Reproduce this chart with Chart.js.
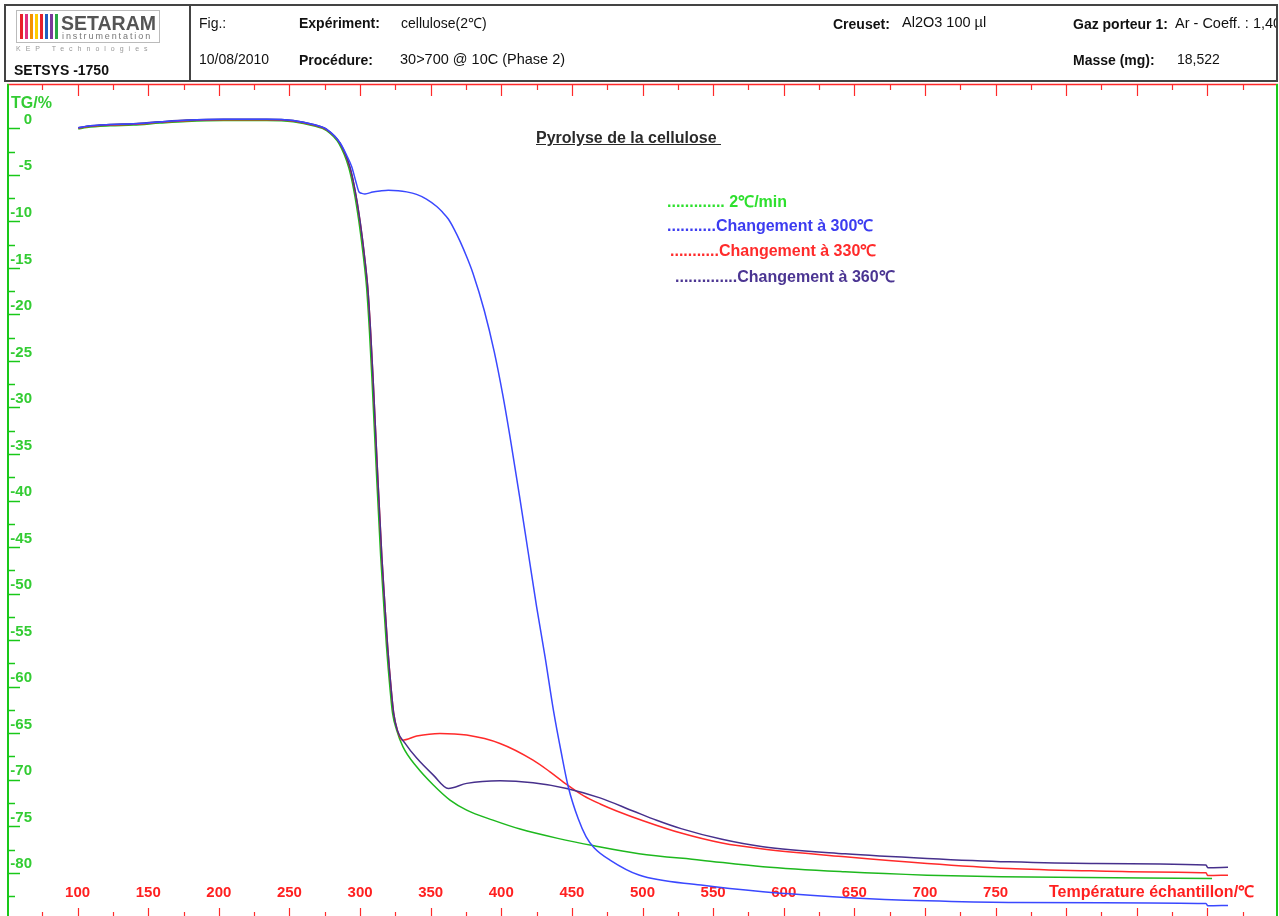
<!DOCTYPE html>
<html>
<head>
<meta charset="utf-8">
<script src="https://cdn.jsdelivr.net/npm/chart.js@4.4.1/dist/chart.umd.min.js"></script>
<style>
html, body { margin: 0; padding: 0; background: #fff; overflow: hidden; }
body { width: 1279px; height: 916px; position: relative; font-family: "Liberation Sans", Arial, sans-serif; }
#chart { position: absolute; left: 0; top: 0; }
.t { position: absolute; white-space: nowrap; line-height: 1; font-size: 14px; color: #111; }
.b { font-weight: bold; }
.box { position: absolute; left: 4px; top: 4px; width: 1274px; height: 78px; border: 2px solid #444; box-sizing: border-box; }
.sep { position: absolute; left: 189px; top: 4px; width: 2px; height: 78px; background: #444; }
.logo { position: absolute; left: 16px; top: 10px; width: 144px; height: 33px; border: 1px solid #bbb; box-sizing: border-box; }
.bar { position: absolute; top: 3px; width: 3px; height: 25px; }
.leg { position: absolute; white-space: nowrap; line-height: 1; font-size: 16px; font-weight: bold; }
</style>
</head>
<body>
<canvas id="chart" width="1279" height="916"></canvas>

<!-- header -->
<div class="box"></div>
<div class="sep"></div>
<div class="logo">
  <span class="bar" style="left:3px;background:#e8202a"></span>
  <span class="bar" style="left:8px;background:#e0307f"></span>
  <span class="bar" style="left:13px;background:#f39200"></span>
  <span class="bar" style="left:18px;background:#ffcc00"></span>
  <span class="bar" style="left:23px;background:#e8202a"></span>
  <span class="bar" style="left:28px;background:#2060c0"></span>
  <span class="bar" style="left:33px;background:#7a3a9a"></span>
  <span class="bar" style="left:38px;background:#2aa845"></span>
  <span class="t b" style="left:44px;top:3px;font-size:19.5px;color:#555">SETARAM</span>
  <span class="t" style="left:45px;top:21px;font-size:9px;letter-spacing:1.9px;color:#777">instrumentation</span>
</div>
<span class="t" style="left:16px;top:45px;font-size:7px;letter-spacing:5px;color:#999">KEP Technologies</span>
<span class="t b" style="left:14px;top:63px;font-size:14px">SETSYS -1750</span>

<span class="t" style="left:199px;top:16px">Fig.:</span>
<span class="t b" style="left:299px;top:16px">Expériment:</span>
<span class="t" style="left:401px;top:16px">cellulose(2℃)</span>
<span class="t b" style="left:833px;top:17px">Creuset:</span>
<span class="t" style="left:902px;top:15px;font-size:14.5px">Al2O3 100 µl</span>
<span class="t b" style="left:1073px;top:17px">Gaz porteur 1:</span>
<span class="t" style="left:1175px;top:16px;width:101px;overflow:hidden;font-size:14.5px">Ar - Coeff. : 1,40</span>
<span class="t" style="left:199px;top:52px">10/08/2010</span>
<span class="t b" style="left:299px;top:53px">Procédure:</span>
<span class="t" style="left:400px;top:52px;font-size:14.5px">30&gt;700 @ 10C (Phase 2)</span>
<span class="t b" style="left:1073px;top:53px">Masse (mg):</span>
<span class="t" style="left:1177px;top:52px">18,522</span>

<!-- title and legend -->
<span class="leg" style="left:536px;top:130px;color:#2a2a2a;text-decoration:underline">Pyrolyse de la cellulose&nbsp;</span>
<span class="leg" style="left:667px;top:194px;color:#2ee02e">.............&nbsp;2℃/min</span>
<span class="leg" style="left:667px;top:218px;color:#3c3cf0">...........Changement à 300℃</span>
<span class="leg" style="left:670px;top:243px;color:#ff2b2b">...........Changement à 330℃</span>
<span class="leg" style="left:675px;top:269px;color:#4b3592">..............Changement à 360℃</span>

<script>
// TG curves, temperature (°C) and mass change (%)
const greenT = [100.5, 106.4, 122.9, 139.4, 158.3, 177.2, 203.2, 233.9, 252.7, 266.9, 276.4, 285.0,
  292.1, 295.6, 299.2, 302.4, 304.7, 306.6, 308.4, 311.4, 314.6, 316.6, 318.7, 321.3, 323.0,
  325.9, 330.4, 340.1, 351.9, 363.7, 375.5, 394.1, 413.3, 440.0, 465.7, 497.5, 541.4, 585.3, 643.4,
  701.5, 753.9, 903.3];
const greenTG = [-0.08, 0.09, 0.27, 0.35, 0.56, 0.74, 0.84, 0.84, 0.7, 0.27, -0.26, -1.63,
  -4.27, -6.67, -10.03, -13.83, -17.23, -21.68, -26.84, -36.4, -45.97, -50.8, -55.64, -60.37, -62.84,
  -64.66, -66.46, -68.61, -70.57, -72.19, -73.26, -74.34, -75.3, -76.3, -77.1, -77.95, -78.64, -79.35, -79.89,
  -80.25, -80.43, -80.6];

const blueT = [100.5, 106.4, 122.9, 139.4, 158.3, 177.2, 203.2, 233.9, 252.7, 266.9, 276.4, 285.8,
  290.5, 294.1, 297.1, 299.3, 301.2, 303.5, 309.0, 314.1, 320.0, 327.0, 333.0, 340.0, 347.0, 354.3, 358.0,
  362.5, 366.5, 371.0, 375.5, 380.0, 388.0, 395.0, 401.0, 407.0, 413.0, 419.0, 425.0, 431.0,
  437.0, 442.5, 447.5, 454.5, 460.0, 465.7, 477.0, 497.5, 541.4, 585.3, 643.4, 701.5, 759.5,
  899.0, 900.3, 914.6];
const blueTG = [0.05, 0.22, 0.4, 0.48, 0.69, 0.87, 0.97, 0.97, 0.83, 0.4, -0.12, -1.55,
  -2.9, -4.13, -5.77, -6.85, -6.99, -7.05, -6.85, -6.74, -6.66, -6.7, -6.83, -7.1, -7.6, -8.4, -8.95,
  -9.75, -10.8, -12.2, -13.8, -15.6, -19.6, -24.0, -28.6, -33.9, -39.6, -45.5, -51.4, -56.8,
  -62.6, -67.1, -70.8, -74.2, -76.1, -77.3, -78.63, -80.24, -81.32, -82.04, -82.64, -83.01, -83.18,
  -83.29, -83.55, -83.5];

const redT = [100.5, 106.4, 122.9, 139.4, 158.3, 177.2, 203.2, 233.9, 252.7, 266.9, 276.4, 285.8,
  292.9, 296.4, 300.0, 303.2, 305.5, 307.4, 309.2, 312.2, 315.4, 317.4, 319.5, 322.1, 323.8, 326.5,
  330.0, 340.1, 356.6, 375.5, 399.1, 422.5, 434.5, 446.3, 458.1, 470.0, 481.7, 500.4, 527.3, 556.3,
  585.3, 643.4, 701.5, 759.5, 817.6, 860.8, 899.0, 900.3, 914.6];
const redTG = [0.0, 0.17, 0.35, 0.43, 0.64, 0.82, 0.92, 0.92, 0.78, 0.35, -0.18, -1.63,
  -4.27, -6.67, -10.03, -13.83, -17.23, -21.68, -26.84, -36.4, -45.97, -50.8, -55.64, -60.37, -62.84, -64.72,
  -65.75, -65.31, -65.02, -65.2, -66.1, -67.89, -69.15, -70.5, -71.7, -72.6, -73.35, -74.4, -75.73, -76.8,
  -77.44, -78.28, -78.99, -79.53, -79.79, -79.9, -80.0, -80.3, -80.25];

const purpleT = [100.5, 106.4, 122.9, 139.4, 158.3, 177.2, 203.2, 233.9, 252.7, 266.9, 276.4, 285.8,
  292.9, 296.4, 300.0, 303.2, 305.5, 307.4, 309.2, 312.2, 315.4, 317.4, 319.5, 322.1, 323.8, 326.5,
  331.8, 340.1, 351.9, 362.5, 375.5, 399.1, 422.5, 446.3, 469.9, 493.3, 510.0, 527.3, 556.3,
  585.3, 643.4, 701.5, 759.5, 817.6, 899.0, 900.3, 914.6];
const purpleTG = [0.06, 0.23, 0.41, 0.49, 0.7, 0.88, 0.98, 0.98, 0.84, 0.41, -0.12, -1.6,
  -4.2, -6.6, -9.95, -13.8, -17.2, -21.65, -26.8, -36.4, -45.97, -50.8, -55.64, -60.37, -62.84, -64.72,
  -66.06, -67.67, -69.5, -70.93, -70.39, -70.11, -70.33, -70.93, -71.95, -73.35, -74.35, -75.25, -76.4,
  -77.2, -77.95, -78.45, -78.82, -78.99, -79.17, -79.45, -79.4];

// axis labels
const xLabels = [100, 150, 200, 250, 300, 350, 400, 450, 500, 550, 600, 650, 700, 750];
const yLabels = [0, -5, -10, -15, -20, -25, -30, -35, -40, -45, -50, -55, -60, -65, -70, -75, -80];
const xTitle = 'Température échantillon/℃';
const yTitle = 'TG/%';

function pairs(xs, ys) {
  return xs.map((v, i) => ({ x: v, y: ys[i] }));
}

const datasets = [
  { label: 'Changement à 300℃', data: pairs(blueT, blueTG), borderColor: '#3a48ff' },
  { label: 'Changement à 360℃', data: pairs(purpleT, purpleTG), borderColor: '#47308c' },
  { label: 'Changement à 330℃', data: pairs(redT, redTG), borderColor: '#ff2a2a' },
  { label: '2℃/min', data: pairs(greenT, greenTG), borderColor: '#1eb81e' }
];

const fontFamily = '"Liberation Sans", Arial, sans-serif';

// axes drawn the way the instrument software does it: ticks inside the frame
const frame = {
  id: 'frame',
  beforeDatasetsDraw(chart) {
    const { ctx, chartArea: a, scales: { x, y } } = chart;
    ctx.save();

    // red top border and x ticks (top and bottom)
    ctx.strokeStyle = '#ff2a2a';
    ctx.lineWidth = 1.5;
    ctx.beginPath();
    ctx.moveTo(a.left, a.top + 0.5);
    ctx.lineTo(a.right, a.top + 0.5);
    ctx.stroke();
    ctx.lineWidth = 1.2;
    for (let t = 75; t <= 925; t += 25) {
      const px = Math.round(x.getPixelForValue(t)) + 0.5;
      const major = t % 50 === 0;
      ctx.beginPath();
      ctx.moveTo(px, a.top);
      ctx.lineTo(px, a.top + (major ? 12 : 6));
      ctx.moveTo(px, a.bottom);
      ctx.lineTo(px, a.bottom - (major ? 8 : 4));
      ctx.stroke();
    }

    // green y axis lines and ticks
    ctx.strokeStyle = '#19c819';
    ctx.lineWidth = 2;
    ctx.beginPath();
    ctx.moveTo(a.left + 1, a.top);
    ctx.lineTo(a.left + 1, a.bottom);
    ctx.moveTo(a.right - 1, a.top);
    ctx.lineTo(a.right - 1, a.bottom);
    ctx.stroke();
    ctx.lineWidth = 1.5;
    for (let v = 0; v >= -82.5; v -= 2.5) {
      const py = Math.round(y.getPixelForValue(v)) + 0.5;
      const major = v % 5 === 0;
      ctx.beginPath();
      ctx.moveTo(a.left, py);
      ctx.lineTo(a.left + (major ? 13 : 8), py);
      ctx.stroke();
    }

    // labels
    ctx.font = 'bold 15px ' + fontFamily;
    ctx.textBaseline = 'middle';
    ctx.fillStyle = '#33cc33';
    ctx.textAlign = 'right';
    yLabels.forEach(v => ctx.fillText(String(v), a.left + 25, y.getPixelForValue(v) - 8.5));
    ctx.textAlign = 'left';
    ctx.font = 'bold 16px ' + fontFamily;
    ctx.fillText(yTitle, 11, 104);

    ctx.font = 'bold 15px ' + fontFamily;
    ctx.fillStyle = '#ff2020';
    ctx.textAlign = 'center';
    xLabels.forEach(t => ctx.fillText(String(t), x.getPixelForValue(t), 893));
    ctx.textAlign = 'left';
    ctx.font = 'bold 16px ' + fontFamily;
    ctx.fillText(xTitle, 1049, 893);
    ctx.restore();
  }
};

new Chart(document.getElementById('chart'), {
  type: 'line',
  data: { datasets },
  options: {
    responsive: false,
    animation: false,
    devicePixelRatio: 1,
    layout: { padding: { left: 7, top: 84, right: 1, bottom: 0 } },
    scales: {
      x: { type: 'linear', min: 50, max: 950, display: false },
      y: { type: 'linear', min: -84.64, max: 4.76, display: false }
    },
    elements: {
      point: { radius: 0 },
      line: { borderWidth: 1.5, cubicInterpolationMode: 'monotone', fill: false }
    },
    plugins: { legend: { display: false }, tooltip: { enabled: false } }
  },
  plugins: [frame]
});
</script>
</body>
</html>
